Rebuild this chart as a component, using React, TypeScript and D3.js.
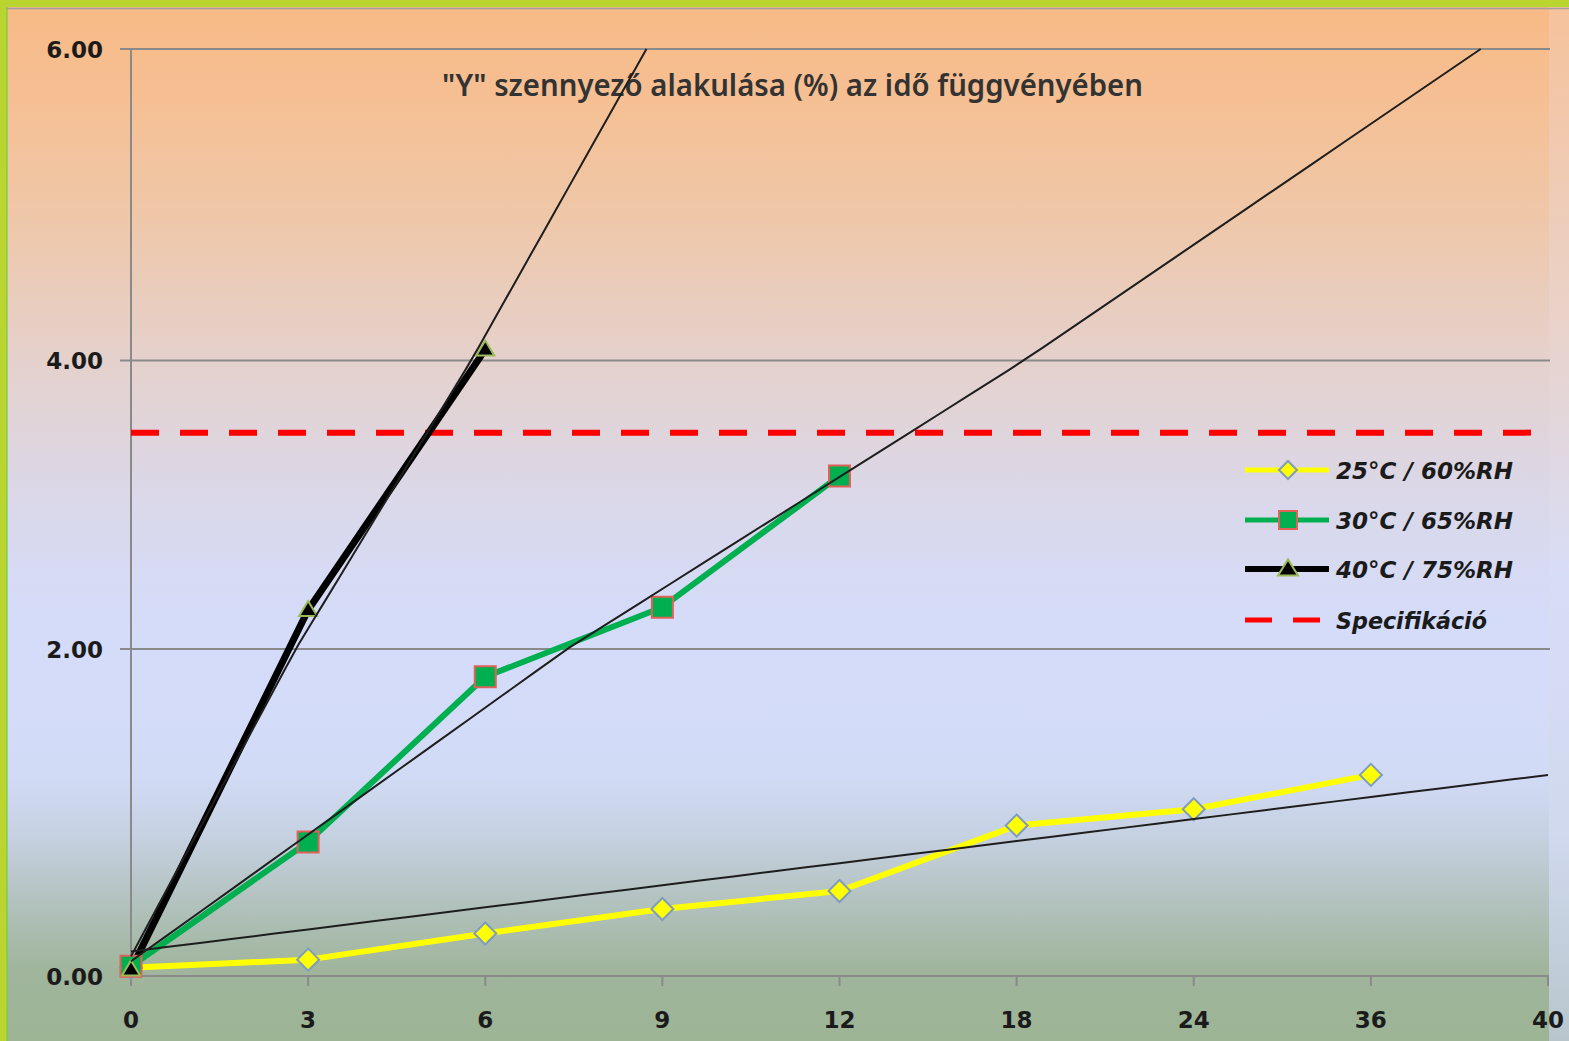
import React from "react";
import * as d3 from "d3";

// Sampling times (months) shown on the category axis
const categories = ["0", "3", "6", "9", "12", "18", "24", "36", "40"];
const yTicks = [0, 2, 4, 6];

// Measured impurity "Y" (%) per storage condition
const series25 = [0.05, 0.1, 0.26, 0.41, 0.52, 0.92, 1.02, 1.23];
const series30 = [0.06, 0.82, 1.83, 2.29, 3.2];
const series40 = [0.04, 2.27, 4.07];

// Linear trend lines: [category index, value] at start and end
const trend25: [number, number][] = [[0, 0.15], [8, 1.23]];
const trend30: [number, number][] = [[0, 0.09], [7.62, 6]];
const trend40: [number, number][] = [[0, 0.12], [2.91, 6]];

const specLimit = 3.5;

const title = "\"Y\" szennyező alakulása (%) az idő függvényében";
const legendLabels = ["25°C / 60%RH", "30°C / 65%RH", "40°C / 75%RH", "Specifikáció"];

const W = 1569;
const H = 1041;

export default function App() {
  const x = d3.scaleLinear().domain([0, categories.length - 1]).range([131, 1548]);
  // axis is split into segments, one per labelled interval
  const y = d3.scaleLinear().domain(yTicks).range([976, 649, 360.5, 49]);

  const line = d3
    .line<number>()
    .x((_, i) => x(i))
    .y((d) => y(d));

  const trendPath = (t: [number, number][]) => {
    const [a, b] = t;
    const pts = d3.range(0, 41).map((k) => {
      const u = k / 40;
      return [a[0] + (b[0] - a[0]) * u, a[1] + (b[1] - a[1]) * u] as [number, number];
    });
    return d3
      .line<[number, number]>()
      .x((d) => x(d[0]))
      .y((d) => y(d[1]))(pts) as string;
  };

  const diamond = (cx: number, cy: number, r = 11) =>
    `M${cx},${cy - r}L${cx + r},${cy}L${cx},${cy + r}L${cx - r},${cy}Z`;
  const square = (cx: number, cy: number, s = 21) =>
    `M${cx - s / 2},${cy - s / 2}h${s}v${s}h${-s}Z`;
  const triangle = (cx: number, cy: number, w = 18, h = 15) =>
    `M${cx},${cy - h * 0.6}L${cx + w / 2},${cy + h * 0.4}L${cx - w / 2},${cy + h * 0.4}Z`;

  const legendY = [470, 520, 569, 620];
  const legendX0 = 1245;
  const legendX1 = 1329;
  const legendMid = 1288;

  return (
    <div style={{ position: "absolute", left: 0, top: 0 }}>
      <svg width={W} height={H} style={{ display: "block" }}>
        <defs>
          <linearGradient id="bg" x1="0" y1="0" x2="0" y2="1">
            <stop offset="0" stopColor="#f7ba86" />
            <stop offset="0.08" stopColor="#f6bf92" />
            <stop offset="0.2" stopColor="#efc7a8" />
            <stop offset="0.34" stopColor="#e5d1cc" />
            <stop offset="0.48" stopColor="#dad8ea" />
            <stop offset="0.6" stopColor="#d4dcfa" />
            <stop offset="0.74" stopColor="#d2dbf6" />
            <stop offset="0.8" stopColor="#c6d1e2" />
            <stop offset="0.87" stopColor="#b1c1bc" />
            <stop offset="0.93" stopColor="#a0b59c" />
            <stop offset="1" stopColor="#9db495" />
          </linearGradient>
          <linearGradient id="bgOuter" x1="0" y1="0" x2="0" y2="1">
            <stop offset="0" stopColor="#f6c29a" />
            <stop offset="0.3" stopColor="#ead2c8" />
            <stop offset="0.55" stopColor="#d8ddf6" />
            <stop offset="0.8" stopColor="#d0d9ee" />
            <stop offset="1" stopColor="#b8c6cc" />
          </linearGradient>
        </defs>

        <rect x={0} y={0} width={W} height={H} fill="url(#bgOuter)" />
        <rect x={7} y={7} width={1542} height={H - 7} fill="url(#bg)" />

        {/* frame */}
        <rect x={0} y={0} width={W} height={7} fill="#bad52f" />
        <rect x={0} y={0} width={7} height={H} fill="#bad52f" />
        <line x1={7} x2={7} y1={7} y2={H} stroke="#6fd03c" strokeWidth={1.2} />
        <line x1={7} x2={W} y1={8.5} y2={8.5} stroke="#a2a09c" strokeWidth={1.5} />

        {/* gridlines */}
        {yTicks.slice(1).map((t) => (
          <line key={t} x1={120} x2={1550} y1={y(t)} y2={y(t)} stroke="#8a8a8a" strokeWidth={2} />
        ))}

        {/* axes */}
        <line x1={131} x2={131} y1={y(6)} y2={y(0)} stroke="#8a8a8a" strokeWidth={2} />
        <line x1={120} x2={1549} y1={y(0)} y2={y(0)} stroke="#8a8a8a" strokeWidth={2} />
        {categories.map((c, i) => (
          <line key={c} x1={x(i)} x2={x(i)} y1={y(0)} y2={y(0) + 10} stroke="#8a8a8a" strokeWidth={2} />
        ))}

        {/* tick labels */}
        {yTicks.map((t) => (
          <text
            key={t}
            x={103}
            y={y(t) + 8.5}
            textAnchor="end"
            fontFamily="DejaVu Sans, Verdana, sans-serif"
            fontWeight="bold"
            fontSize={23}
            fill="#1b1b1b"
          >
            {t.toFixed(2)}
          </text>
        ))}
        {categories.map((c, i) => (
          <text
            key={c}
            x={x(i)}
            y={1028}
            textAnchor="middle"
            fontFamily="DejaVu Sans, Verdana, sans-serif"
            fontWeight="bold"
            fontSize={23}
            fill="#1b1b1b"
          >
            {c}
          </text>
        ))}

        {/* title */}
        <text
          x={442}
          y={96}
          textLength={701}
          lengthAdjust="spacingAndGlyphs"
          fontFamily="Noto Sans, Open Sans, sans-serif"
          fontWeight={600}
          fontSize={30}
          fill="#333333"
        >
          {title}
        </text>

        {/* specification limit */}
        <line
          x1={131}
          x2={1548}
          y1={y(specLimit)}
          y2={y(specLimit)}
          stroke="#ff0000"
          strokeWidth={6}
          strokeDasharray="28 21"
        />

        {/* series lines */}
        <path d={line(series25) as string} fill="none" stroke="#ffff00" strokeWidth={6} strokeLinejoin="round" />
        <path d={line(series30) as string} fill="none" stroke="#00b050" strokeWidth={6} strokeLinejoin="round" />
        <path d={line(series40) as string} fill="none" stroke="#000000" strokeWidth={7} strokeLinejoin="round" />

        {/* markers */}
        {series25.map((v, i) => (
          <path key={`d${i}`} d={diamond(x(i), y(v))} fill="#ffff00" stroke="#7e9cc0" strokeWidth={2} />
        ))}
        {series30.map((v, i) => (
          <path key={`s${i}`} d={square(x(i), y(v))} fill="#00b050" stroke="#e0605a" strokeWidth={2} />
        ))}
        {series40.map((v, i) => (
          <path key={`t${i}`} d={triangle(x(i), y(v))} fill="#000000" stroke="#9bbb59" strokeWidth={2} />
        ))}

        {/* trend lines */}
        {[trend25, trend30, trend40].map((t, i) => (
          <path key={`tr${i}`} d={trendPath(t)} fill="none" stroke="#1e1e1e" strokeWidth={2} />
        ))}

        {/* legend */}
        <g fontFamily="DejaVu Sans, Verdana, sans-serif" fontWeight="bold" fontStyle="italic" fontSize={22.5} fill="#1b1b1b">
          <line x1={legendX0} x2={legendX1} y1={legendY[0]} y2={legendY[0]} stroke="#ffff00" strokeWidth={5} />
          <path d={diamond(legendMid, legendY[0], 9)} fill="#ffff00" stroke="#7e9cc0" strokeWidth={2} />
          <line x1={legendX0} x2={legendX1} y1={legendY[1]} y2={legendY[1]} stroke="#00b050" strokeWidth={5} />
          <path d={square(legendMid, legendY[1], 18)} fill="#00b050" stroke="#e0605a" strokeWidth={2} />
          <line x1={legendX0} x2={legendX1} y1={legendY[2]} y2={legendY[2]} stroke="#000000" strokeWidth={6} />
          <path d={triangle(legendMid, legendY[2], 20, 16)} fill="#000000" stroke="#9bbb59" strokeWidth={2} />
          <line
            x1={legendX0}
            x2={1323}
            y1={legendY[3]}
            y2={legendY[3]}
            stroke="#ff0000"
            strokeWidth={5}
            strokeDasharray="27 21"
          />
          {legendLabels.map((l, i) => (
            <text
              key={l}
              x={1336}
              y={legendY[i] + 8.5}
              textLength={i === 3 ? 151 : 177}
              lengthAdjust="spacingAndGlyphs"
            >
              {l}
            </text>
          ))}
        </g>
      </svg>
    </div>
  );
}
